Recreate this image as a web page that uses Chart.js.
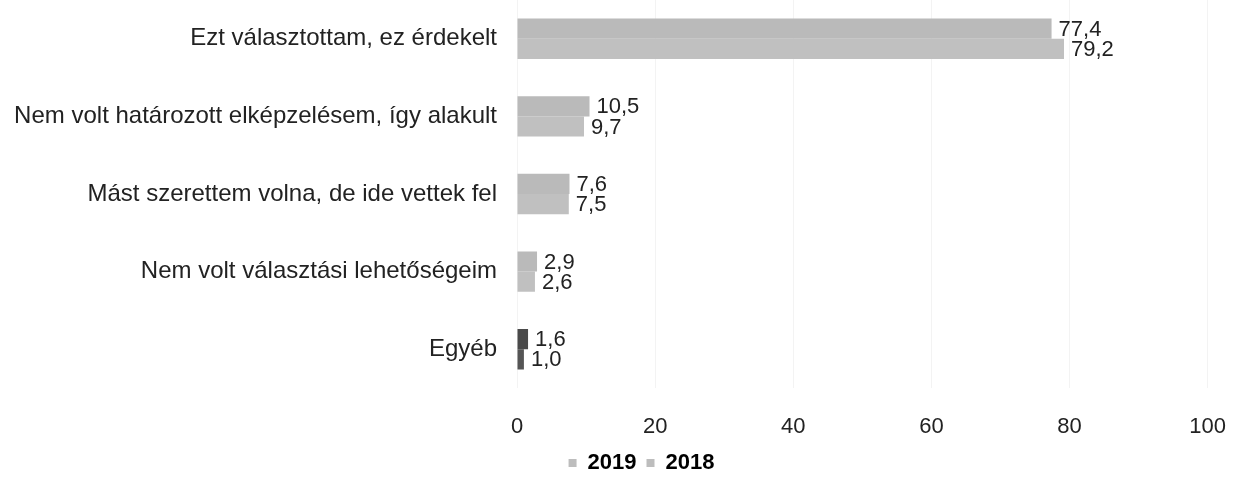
<!DOCTYPE html>
<html>
<head>
<meta charset="utf-8">
<script src="https://cdn.jsdelivr.net/npm/chart.js@4"></script>
<style>
  html, body { margin: 0; padding: 0; background: #fff; }
  #wrap { width: 1252px; height: 485px; }
</style>
</head>
<body>
<div id="wrap"><canvas id="chart" width="1252" height="485"></canvas></div>
<script>
const categories = [
    'Ezt választottam, ez érdekelt',
    'Nem volt határozott elképzelésem, így alakult',
    'Mást szerettem volna, de ide vettek fel',
    'Nem volt választási lehetőségeim',
    'Egyéb'
];
const values2019 = [77.4, 10.5, 7.6, 2.9, 1.6];
const values2018 = [79.2, 9.7, 7.5, 2.6, 1.0];
const xTicks = [0, 20, 40, 60, 80, 100];

const FONT = "'Liberation Sans', Arial, sans-serif";

// value labels right of each bar, Hungarian decimal comma
const valueLabels = {
    id: 'valueLabels',
    afterDatasetsDraw(chart) {
        const ctx = chart.ctx;
        ctx.save();
        ctx.font = '22px ' + FONT;
        ctx.fillStyle = '#222';
        ctx.textBaseline = 'middle';
        ctx.textAlign = 'left';
        chart.data.datasets.forEach((ds, i) => {
            chart.getDatasetMeta(i).data.forEach((bar, j) => {
                const txt = ds.data[j].toFixed(1).replace('.', ',');
                ctx.fillText(txt, bar.x + 7, bar.y + 1);
            });
        });
        ctx.restore();
    }
};

// legend sits a bit right of the canvas centre in the original
const legendShift = {
    id: 'legendShift',
    afterLayout(chart) {
        if (chart.legend) chart.legend.left = 58;
    }
};

new Chart(document.getElementById('chart'), {
    type: 'bar',
    data: {
        labels: categories,
        datasets: [
            {
                label: '2019',
                data: values2019,
                backgroundColor: ['#bababa', '#bababa', '#bababa', '#bababa', '#4a4a4a'],
                barPercentage: 1,
                categoryPercentage: 0.52
            },
            {
                label: '2018',
                data: values2018,
                backgroundColor: ['#c0c0c0', '#c0c0c0', '#c0c0c0', '#c0c0c0', '#555555'],
                barPercentage: 1,
                categoryPercentage: 0.52
            }
        ]
    },
    options: {
        indexAxis: 'y',
        responsive: false,
        animation: false,
        layout: { padding: { top: 0, right: 27, bottom: 1, left: 0 } },
        plugins: {
            tooltip: { enabled: false },
            legend: {
                position: 'bottom',
                labels: {
                    color: '#222',
                    font: { family: FONT, size: 22, weight: 'bold' },
                    boxWidth: 8,
                    boxHeight: 8,
                    padding: 10,
                    generateLabels: chart => chart.data.datasets.map((ds, i) => ({
                        text: ds.label,
                        fillStyle: '#bdbdbd',
                        strokeStyle: '#bdbdbd',
                        lineWidth: 0,
                        datasetIndex: i
                    }))
                }
            }
        },
        scales: {
            x: {
                min: 0,
                max: 100,
                afterBuildTicks: s => { s.ticks = xTicks.map(v => ({ value: v })); },
                afterFit: s => { s.height = 54; },
                grid: { color: '#f3f3f3', drawTicks: false },
                border: { display: false },
                ticks: {
                    color: '#222',
                    padding: 26,
                    font: { family: FONT, size: 22 }
                }
            },
            y: {
                afterFit: s => { s.width = 517; s.paddingTop = 0; s.paddingBottom = 0; },
                grid: { display: false, drawTicks: false },
                border: { display: false },
                ticks: {
                    color: '#222',
                    padding: 20,
                    font: { family: FONT, size: 24 }
                }
            }
        }
    },
    plugins: [valueLabels, legendShift]
});
</script>
</body>
</html>
